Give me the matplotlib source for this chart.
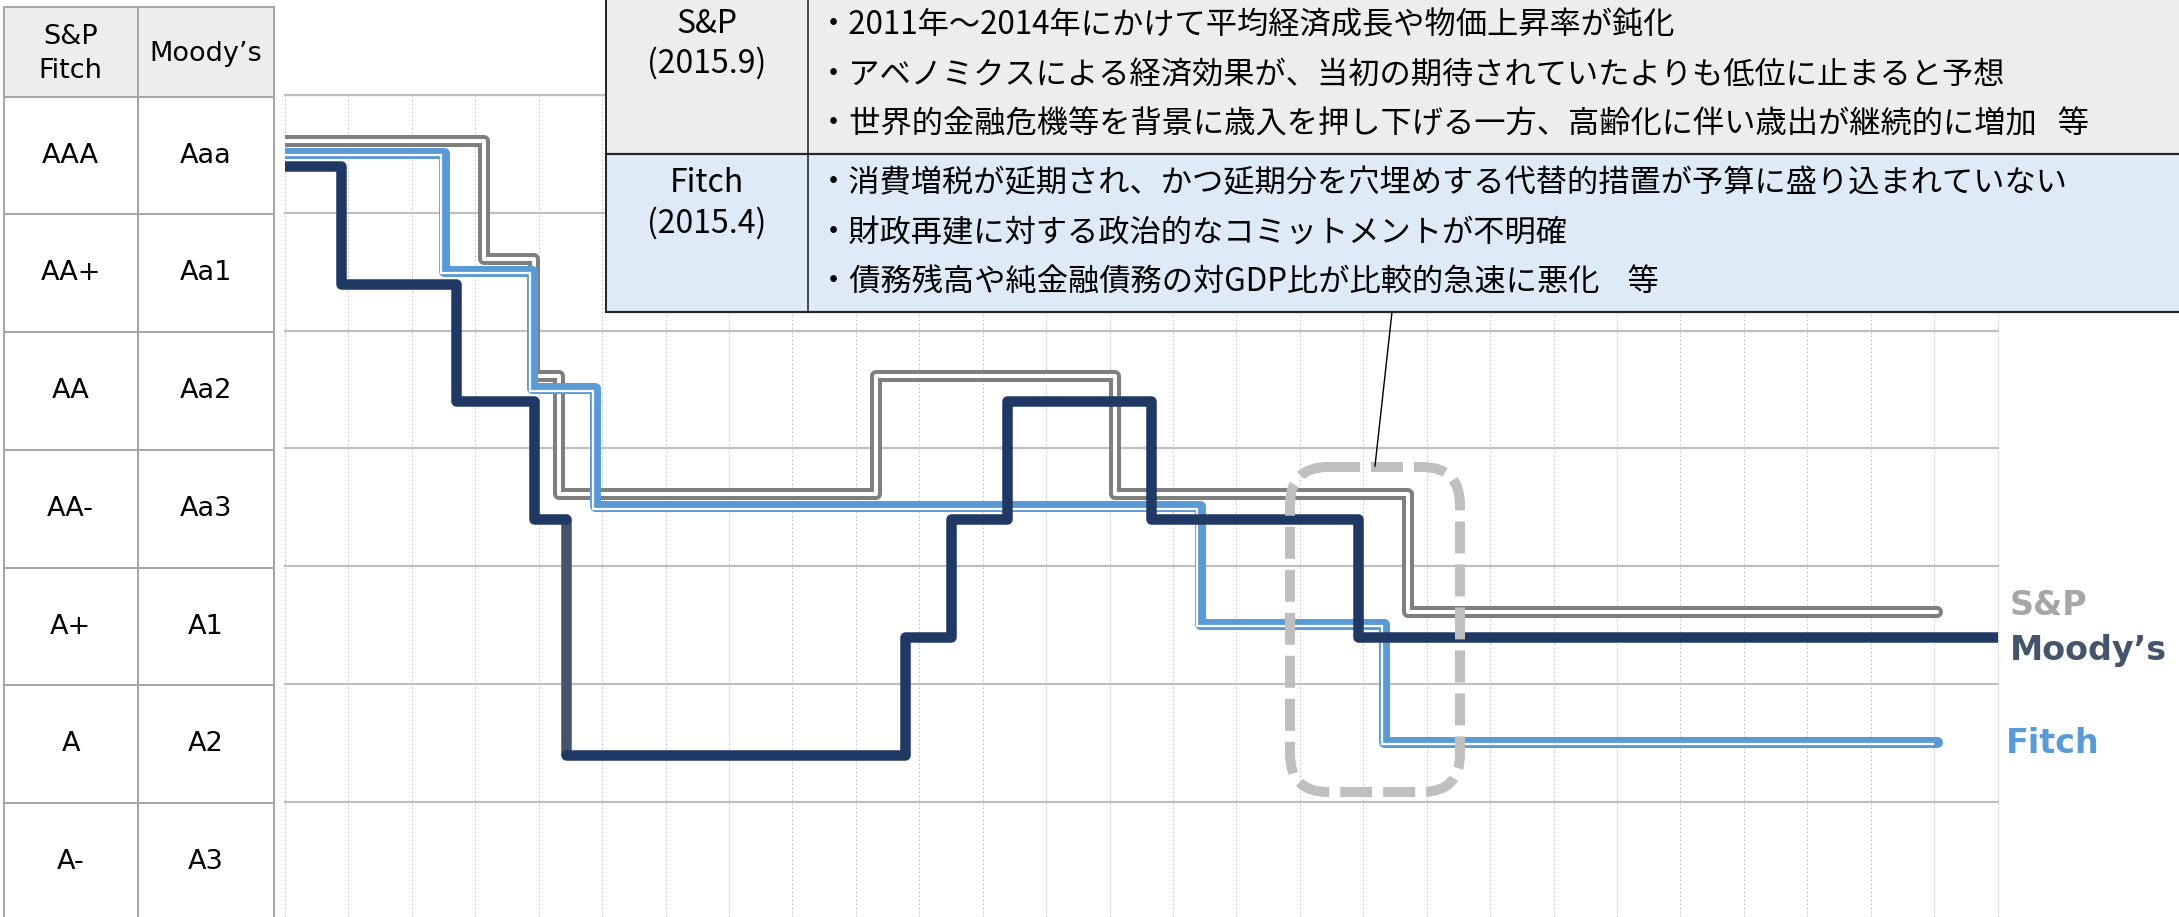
import matplotlib
matplotlib.use("Agg")
import matplotlib.pyplot as plt
import matplotlib.transforms as mtransforms
from matplotlib.patches import Rectangle, FancyBboxPatch

# ---------------- data ----------------
ratings_sp_fitch = ["AAA", "AA+", "AA", "AA-", "A+", "A", "A-"]
ratings_moodys = ["Aaa", "Aa1", "Aa2", "Aa3", "A1", "A2", "A3"]

# rating changes (decimal year, notch index: 0 = AAA/Aaa)
sp_dates = [1998.0, 2001.13, 2001.93, 2002.32, 2007.32, 2011.08, 2015.71, 2024.04]
sp_levels = [0, 1, 2, 3, 2, 3, 4, 4]

fitch_dates = [1998.0, 2000.50, 2001.90, 2002.89, 2012.42, 2015.33, 2024.04]
fitch_levels = [0, 1, 2, 3, 4, 5, 5]

moodys_dates = [1998.0, 1998.88, 2000.70, 2001.93, 2002.43, 2007.78,
                2008.50, 2009.39, 2011.66, 2014.92, 2025.0]
moodys_levels = [0, 1, 2, 3, 5, 4, 3, 2, 3, 4, 4]

x_start, x_end = 1998, 2025

sp_title = ["S&P", "(2015.9)"]
sp_reasons = [
    "・2011年～2014年にかけて平均経済成長や物価上昇率が鈍化",
    "・アベノミクスによる経済効果が、当初の期待されていたよりも低位に止まると予想",
    "・世界的金融危機等を背景に歳入を押し下げる一方、高齢化に伴い歳出が継続的に増加   等",
]
fitch_title = ["Fitch", "(2015.4)"]
fitch_reasons = [
    "・消費増税が延期され、かつ延期分を穴埋めする代替的措置が予算に盛り込まれていない",
    "・財政再建に対する政治的なコミットメントが不明確",
    "・債務残高や純金融債務の対GDP比が比較的急速に悪化    等",
]
series_labels = ["S&P", "Moody’s", "Fitch"]

# ---------------- layout ----------------
W, H, DPI = 2179, 917, 100
PT = 72.0 / DPI  # points per pixel

C_SP = "#7f7f7f"
C_FITCH = "#5b9bd5"
C_MOODY = "#1f3864"
C_SLATE = "#44546a"

fig = plt.figure(figsize=(W / DPI, H / DPI), dpi=DPI)
fig.patch.set_facecolor("white")

L, R, T = 285, 1997.6, 95
row_px = 117.75
ax = fig.add_axes([L / W, 0, (R - L) / W, (H - T) / H])
ax.set_xlim(x_start, x_end)
ax.set_ylim(-0.5 + (H - T) / row_px, -0.5)
for s in ax.spines.values():
    s.set_visible(False)
ax.set_xticks([])
ax.set_yticks([])

# grid
for yr in range(x_start, x_end + 1):
    ax.axvline(yr, color="#c8c8c8", lw=1.0 * PT, ls=(0, (2, 2)), zorder=0.5, clip_on=False)
for k in range(len(ratings_sp_fitch)):
    ax.axhline(k - 0.5, color="#bfbfbf", lw=2.2 * PT, zorder=0.6, clip_on=False)


def steps(dates, levels):
    xs, ys = [dates[0]], [levels[0]]
    for i in range(1, len(dates)):
        xs.append(dates[i]); ys.append(levels[i - 1])
        if levels[i] != levels[i - 1]:
            xs.append(dates[i]); ys.append(levels[i])
    return xs, ys


def shifted(dx, dy):
    return mtransforms.offset_copy(ax.transData, fig=fig, x=dx, y=dy, units="dots")


# S&P : double line
sx, sy = steps(sp_dates, sp_levels)
ax.plot(sx, sy, color=C_SP, lw=12 * PT, solid_joinstyle="round", solid_capstyle="round",
        transform=shifted(0, 13), zorder=2)
ax.plot(sx, sy, color="white", lw=4 * PT, solid_joinstyle="round", solid_capstyle="round",
        transform=shifted(0, 13), zorder=2.1)

# Fitch : thick-thin line
fx, fy = steps(fitch_dates, fitch_levels)
ax.plot(fx, fy, color=C_FITCH, lw=11 * PT, solid_joinstyle="round", solid_capstyle="round",
        transform=shifted(0, 1), zorder=3)
ax.plot(fx, fy, color="white", lw=2.2 * PT, solid_joinstyle="miter", solid_capstyle="butt",
        transform=shifted(-2.6, 1 - 2.6), zorder=3.1)

# Moody's : thick navy, the 2-notch drop drawn in slate
mx, my = steps(moodys_dates, moodys_levels)
big = [i for i in range(1, len(moodys_levels)) if abs(moodys_levels[i] - moodys_levels[i - 1]) >= 2][0]
xd = moodys_dates[big]
j = [i for i in range(len(mx) - 1) if mx[i] == xd and mx[i + 1] == xd][0]
ax.plot(mx[: j + 1], my[: j + 1], color=C_MOODY, lw=10.5 * PT, solid_joinstyle="round",
        solid_capstyle="round", transform=shifted(0, -12), zorder=4.1)
ax.plot(mx[j: j + 2], my[j: j + 2], color=C_SLATE, lw=10.5 * PT, solid_capstyle="butt",
        transform=shifted(0, -12), zorder=4)
ax.plot(mx[j + 1:], my[j + 1:], color=C_MOODY, lw=10.5 * PT, solid_joinstyle="round",
        solid_capstyle="round", transform=shifted(0, -12), zorder=4.1)

# ---------------- overlay (pixel coordinates) ----------------
ov = fig.add_axes([0, 0, 1, 1], zorder=5)
ov.set_xlim(0, W)
ov.set_ylim(H, 0)
ov.axis("off")

# left rating table
tx0, tx1, tx2 = 3.5, 138, 274
th0, th1 = 6.7, 96.7
bcol = "#a6a6a6"
ov.add_patch(Rectangle((tx0, th0), tx2 - tx0, th1 - th0, facecolor="#ededed", edgecolor="none", zorder=1))
nrows = len(ratings_sp_fitch)
ybot = th1 + nrows * row_px
for xx in (tx0, tx1, tx2):
    ov.plot([xx, xx], [th0, ybot], color=bcol, lw=2 * PT, zorder=2, solid_capstyle="projecting")
ov.plot([tx0, tx2], [th0, th0], color=bcol, lw=2 * PT, zorder=2)
for k in range(nrows + 1):
    yy = th1 + k * row_px
    ov.plot([tx0, tx2], [yy, yy], color=bcol, lw=2 * PT, zorder=2)

tfont = dict(family=["DejaVu Sans"], fontsize=19.5, color="black", ha="center", va="center")
ov.text((tx0 + tx1) / 2, 37, "S&P", **tfont)
ov.text((tx0 + tx1) / 2, 71, "Fitch", **tfont)
ov.text((tx1 + tx2) / 2, 54, "Moody’s", **tfont)
for k in range(nrows):
    yc = th1 + (k + 0.5) * row_px
    ov.text((tx0 + tx1) / 2, yc, ratings_sp_fitch[k], **tfont)
    ov.text((tx1 + tx2) / 2, yc, ratings_moodys[k], **tfont)

# reasons box
bx0, bxc, bx1 = 606, 808, W + 10
by0, bym, by1 = -5, 154, 312
ov.add_patch(Rectangle((bx0, by0), bx1 - bx0, bym - by0, facecolor="#ededed", edgecolor="none", zorder=6))
ov.add_patch(Rectangle((bx0, bym), bx1 - bx0, by1 - bym, facecolor="#deebf7", edgecolor="none", zorder=6))
lc = "#262626"
ov.plot([bx0, bx0], [by0, by1], color=lc, lw=2 * PT, zorder=7)
ov.plot([bxc, bxc], [by0, by1], color=lc, lw=1.6 * PT, zorder=7)
ov.plot([bx0, bx1], [bym, bym], color=lc, lw=2.2 * PT, zorder=7)
ov.plot([bx0, bx1], [by1, by1], color=lc, lw=2.2 * PT, zorder=7)

jp = ["Noto Sans CJK JP", "DejaVu Sans"]
cx = (bx0 + bxc) / 2
ov.text(cx, 24, sp_title[0], family=jp, fontsize=23, ha="center", va="center", zorder=8)
ov.text(cx, 63, sp_title[1], family=jp, fontsize=23, ha="center", va="center", zorder=8)
ov.text(cx, 183, fitch_title[0], family=jp, fontsize=23, ha="center", va="center", zorder=8)
ov.text(cx, 223, fitch_title[1], family=jp, fontsize=23, ha="center", va="center", zorder=8)
for i, s in enumerate(sp_reasons):
    ov.text(818, 25 + 50 * i, s, family=jp, fontsize=22.5, ha="left", va="center", zorder=8)
for i, s in enumerate(fitch_reasons):
    ov.text(818, 183 + 50 * i, s, family=jp, fontsize=22.5, ha="left", va="center", zorder=8)

# callout and dashed highlight
ov.plot([1392, 1375], [by1, 466], color="black", lw=1.4 * PT, zorder=5)
ov.add_patch(FancyBboxPatch((1290, 467), 170, 325,
                            boxstyle="round,pad=0,rounding_size=38",
                            facecolor="none", edgecolor="#bfbfbf", lw=10 * PT,
                            ls=(0, (3.2, 1.1)), capstyle="butt", zorder=4))

# series labels on the right
lab = dict(family=["DejaVu Sans"], fontsize=24, fontweight="bold", ha="left", va="baseline")
ov.text(2010, 615, series_labels[0], color="#a6a6a6", **lab)
ov.text(2010, 660, series_labels[1], color=C_SLATE, **lab)
ov.text(2006, 753, series_labels[2], color=C_FITCH, **lab)

fig.savefig("out.png", dpi=DPI, facecolor="white")
